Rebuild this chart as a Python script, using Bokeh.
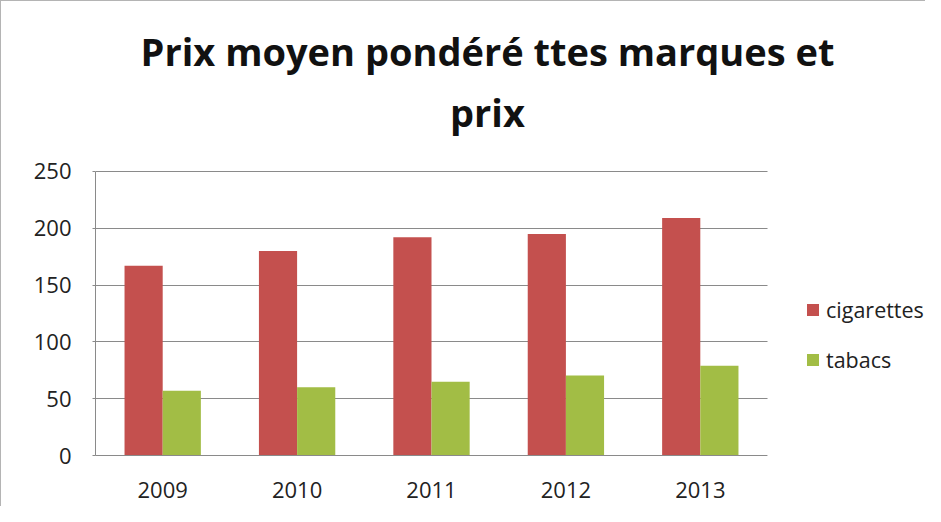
from bokeh.plotting import figure
from bokeh.models import (Range1d, SingleIntervalTicker, FixedTicker, Legend, LegendItem,
                          ColumnDataSource, Label, BoxAnnotation)
from bokeh.transform import dodge
from bokeh.embed import file_html
from bokeh.resources import INLINE

years = ["2009", "2010", "2011", "2012", "2013"]
cigarettes = [167, 180, 192, 195, 209]
tabacs = [57, 60, 65, 70.5, 79]
y_max = 250
y_ticks_interval = 50
title_line1 = "Prix moyen pondéré ttes marques et"
title_line2 = "prix"

FONT = "Open Sans"
RED = "#C4504E"
GREEN = "#A2BD45"
GRID = "#8A8A8A"

idx = list(range(len(years)))
src = ColumnDataSource(dict(x=idx, years=years, cigarettes=cigarettes, tabacs=tabacs))

# frame spans the whole area right of the y axis; bars occupy the left part
p = figure(width=925, height=506, output_backend="svg", toolbar_location=None,
           x_range=Range1d(-0.5, 5.683), y_range=Range1d(0, 399.6),
           min_border_left=94, min_border_right=0, min_border_bottom=52, min_border_top=0,
           styles={"border-left": "1px solid #b4b4b4", "border-top": "1px solid #b4b4b4"})
p.title = None

r1 = p.vbar(x=dodge("x", -0.142), top="cigarettes", width=0.284, source=src,
            fill_color=RED, line_color=None)
r2 = p.vbar(x=dodge("x", 0.142), top="tabacs", width=0.284, source=src,
            fill_color=GREEN, line_color=None)

p.outline_line_color = None
p.background_fill_color = "white"
p.border_fill_color = "white"

p.xgrid.grid_line_color = None
p.ygrid.grid_line_color = GRID
p.ygrid.grid_line_width = 1
p.ygrid.bounds = (0, y_max)
p.yaxis.ticker = SingleIntervalTicker(interval=y_ticks_interval)
p.yaxis.bounds = (0, y_max)

p.xaxis.ticker = FixedTicker(ticks=idx)
p.xaxis.major_label_overrides = {i: y for i, y in zip(idx, years)}
p.xaxis.bounds = (-0.5, len(years) - 0.5)

for ax in (p.xaxis, p.yaxis):
    ax.axis_line_color = GRID
    ax.axis_line_width = 1
    ax.major_label_text_font = FONT
    ax.major_label_text_font_size = "22px"
    ax.major_label_text_color = "#222222"
    ax.minor_tick_line_color = None

p.yaxis.major_tick_line_color = GRID
p.yaxis.major_tick_in = 0
p.yaxis.major_tick_out = 3
p.yaxis.major_label_standoff = 20
p.xaxis.major_tick_line_color = None
p.xaxis.major_label_standoff = 20

# hide gridlines in the legend area, right of the plot
p.add_layout(BoxAnnotation(left=len(years) - 0.5, fill_color="white", fill_alpha=1,
                           line_color=None))

for txt, yy in ((title_line1, 405), (title_line2, 344)):
    p.add_layout(Label(x=392, y=yy, x_units="screen", y_units="screen", text=txt,
                       text_font=FONT, text_font_style="bold", text_font_size="38px",
                       text_align="center", text_baseline="alphabetic", text_color="#111111"))

legend = Legend(items=[LegendItem(label="cigarettes", renderers=[r1]),
                       LegendItem(label="tabacs", renderers=[r2])],
                location=(710, 81))
legend.border_line_color = None
legend.background_fill_alpha = 0
legend.label_text_font = FONT
legend.label_text_font_size = "21.5px"
legend.label_text_color = "#222222"
legend.glyph_width = 15
legend.glyph_height = 15
legend.label_height = 30
legend.label_standoff = 6
legend.spacing = 20
legend.padding = 0
legend.margin = 0
p.add_layout(legend, "center")

open("out.html", "w").write(file_html(p, INLINE))
